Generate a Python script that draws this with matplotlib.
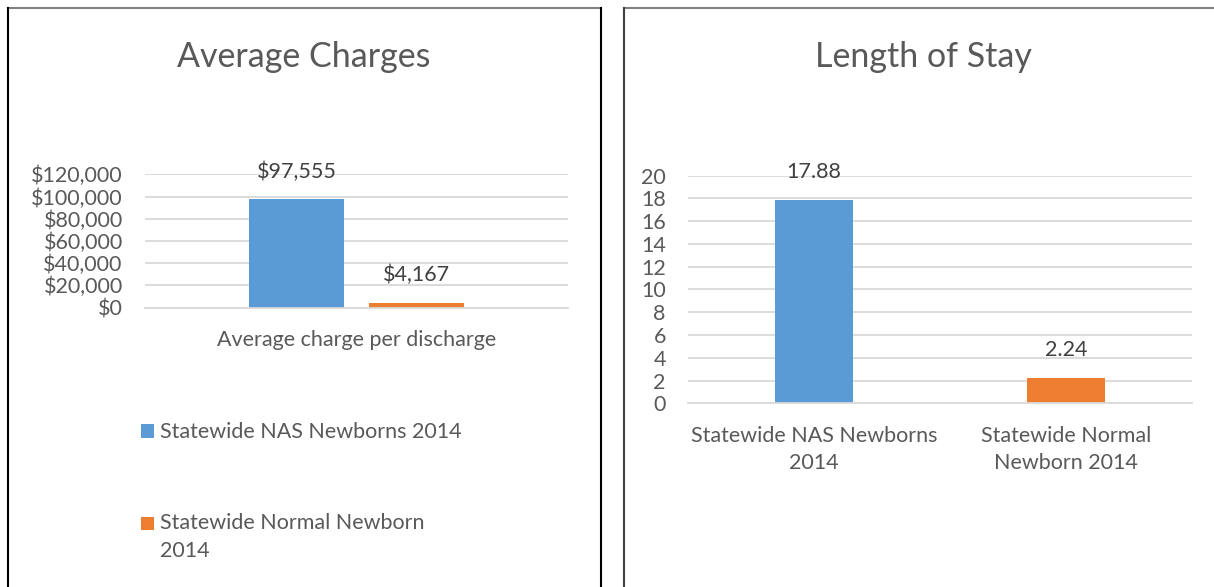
import numpy as np
import matplotlib
matplotlib.use("Agg")
import matplotlib.pyplot as plt
from matplotlib.lines import Line2D

# data
series = ["Statewide NAS Newborns 2014", "Statewide Normal Newborn\n2014"]
charges = [97555, 4167]
charge_labels = ["$97,555", "$4,167"]
charge_category = "Average charge per discharge"
stay_categories = ["Statewide NAS Newborns\n2014", "Statewide Normal\nNewborn 2014"]
stay_days = [17.88, 2.24]
stay_labels = ["17.88", "2.24"]
charge_ticks = [0, 20000, 40000, 60000, 80000, 100000, 120000]
stay_ticks = list(range(0, 21, 2))

colors = ["#5B9BD5", "#ED7D31"]
grid_c = "#D9D9D9"
text_c = "#595959"
W, H = 1214, 587
fs = 15.5

plt.rcParams["font.family"] = ["Lato", "DejaVu Sans"]

fig = plt.figure(figsize=(W / 100, H / 100), dpi=100)
fig.patch.set_facecolor("white")


def px_axes(x0, y0, x1, y1):
    # pixel box (top-left origin) -> axes
    return fig.add_axes([x0 / W, 1 - y1 / H, (x1 - x0) / W, (y1 - y0) / H])


def px_line(xs, ys, color, lw):
    fig.add_artist(Line2D([x / W for x in xs], [1 - y / H for y in ys],
                          transform=fig.transFigure, color=color, lw=lw))


def style(ax, ticks):
    for s in ["top", "right", "left"]:
        ax.spines[s].set_visible(False)
    ax.spines["bottom"].set_color(grid_c)
    ax.spines["bottom"].set_linewidth(1.3)
    ax.set_yticks(ticks)
    ax.set_ylim(ticks[0], ticks[-1])
    ax.yaxis.grid(True, color=grid_c, lw=1.3)
    ax.set_axisbelow(True)
    ax.tick_params(axis="y", length=0, pad=16, labelsize=fs, labelcolor=text_c)
    ax.tick_params(axis="x", length=0, labelsize=fs, labelcolor=text_c)


# panel borders
px_line([8, 600.5], [8, 8], "#808080", 1.5)
px_line([8, 8], [8, 590], "black", 1.5)
px_line([600.5, 600.5], [8, 590], "black", 1.5)
px_line([624, 1216], [8, 8], "#808080", 1.5)
px_line([624, 624], [8, 590], "#404040", 1.5)

# left chart: average charges
ax1 = px_axes(145, 174.3, 568, 307.5)
style(ax1, charge_ticks)
bw = 0.225
offs = [-0.142, 0.142]
bars = []
for i in range(2):
    b = ax1.bar(offs[i], charges[i], width=bw, color=colors[i], label=series[i])
    bars.append(b)
    ax1.annotate(charge_labels[i], (offs[i], charges[i]), xytext=(0, 20),
                 textcoords="offset points", ha="center", va="center",
                 fontsize=fs, color="#404040")
ax1.set_xlim(-0.5, 0.5)
ax1.set_xticks([0])
ax1.set_xticklabels([charge_category])
ax1.tick_params(axis="x", pad=16)
ax1.yaxis.set_major_formatter(matplotlib.ticker.FuncFormatter(lambda v, p: "${:,.0f}".format(v)))
fig.text(304 / W, 1 - 57 / H, "Average Charges", ha="center", va="center",
         fontsize=24.5, color=text_c)

leg = ax1.legend(handles=[b[0] for b in bars], labels=series, loc="upper left",
                 bbox_to_anchor=(122 / W, 1 - 403 / H), bbox_transform=fig.transFigure,
                 frameon=False, fontsize=fs, labelcolor=text_c, handlelength=0.6,
                 handleheight=0.6, handletextpad=0.25, labelspacing=3.3)
for t in leg.get_texts():
    t.set_linespacing(1.45)
# keep the orange swatch beside the first text line
h2 = leg.legend_handles[1]
h2.set_y(h2.get_y() + 10)

# right chart: length of stay
ax2 = px_axes(688, 175.7, 1192, 403.3)
style(ax2, stay_ticks)
x = np.arange(len(stay_categories))
ax2.bar(x, stay_days, width=0.313, color=colors)
for i in range(2):
    ax2.annotate(stay_labels[i], (x[i], stay_days[i]), xytext=(0, 20),
                 textcoords="offset points", ha="center", va="center",
                 fontsize=fs, color="#404040")
ax2.set_xlim(-0.5, 1.5)
ax2.set_xticks(x)
ax2.set_xticklabels(stay_categories, linespacing=1.45)
ax2.tick_params(axis="x", pad=16)
fig.text(923 / W, 1 - 57 / H, "Length of Stay", ha="center", va="center",
         fontsize=24.5, color=text_c)

fig.savefig("out.png", dpi=100, facecolor="white")
